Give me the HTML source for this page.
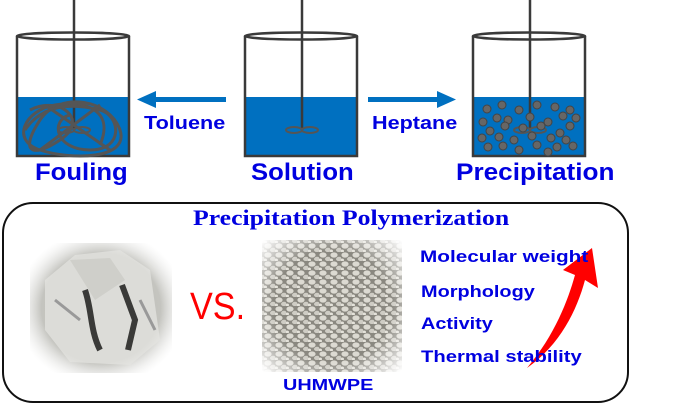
<!DOCTYPE html>
<html><head><style>
body{margin:0;width:687px;height:413px;background:#fff;overflow:hidden;position:relative;font-family:"Liberation Sans",sans-serif}
.t{position:absolute;font-weight:bold;color:#0000e0;white-space:nowrap;transform-origin:0 50%}
</style></head><body>
<svg width="687" height="413" style="position:absolute;left:0;top:0">
<defs>
<radialGradient id="g1" cx="50%" cy="50%" r="60%"><stop offset="0" stop-color="#b8b8b3"/><stop offset="0.7" stop-color="#c4c4bf"/><stop offset="1" stop-color="#fff"/></radialGradient>
<radialGradient id="fade" cx="50%" cy="50%" r="70%"><stop offset="0.6" stop-color="#fff" stop-opacity="0"/><stop offset="1" stop-color="#fff" stop-opacity="1"/></radialGradient>
<pattern id="pb" width="11" height="9" patternUnits="userSpaceOnUse"><rect width="11" height="9" fill="#8a8880"/><ellipse cx="4" cy="3" rx="3.6" ry="2.6" fill="#dcdad2"/><ellipse cx="9" cy="7" rx="3" ry="2.2" fill="#cfcdc5"/><ellipse cx="1" cy="8" rx="2" ry="1.5" fill="#e4e2da"/></pattern>
</defs>
<g>
<rect x="17" y="97" width="112" height="59" fill="#0070c0"/>
<rect x="245" y="97" width="112" height="59" fill="#0070c0"/>
<rect x="473" y="97" width="112" height="59" fill="#0070c0"/>
</g>
<g stroke="#3a3a3a" stroke-width="2.5" fill="none">
<path d="M17 36 V156 H129 V36"/><ellipse cx="73" cy="36" rx="56" ry="3.5"/>
<path d="M245 36 V156 H357 V36"/><ellipse cx="301" cy="36" rx="56" ry="3.5"/>
<path d="M473 36 V156 H585 V36"/><ellipse cx="529" cy="36" rx="56" ry="3.5"/>
<line x1="74" y1="0" x2="74" y2="130"/><line x1="302" y1="0" x2="302" y2="130"/><line x1="530" y1="0" x2="530" y2="130"/>
</g>
<g stroke="#555" stroke-width="2" fill="none">
<ellipse cx="294" cy="130" rx="8" ry="3"/><ellipse cx="310" cy="130" rx="8" ry="3"/>
<ellipse cx="66" cy="130" rx="8" ry="3"/><ellipse cx="82" cy="130" rx="8" ry="3"/>
<ellipse cx="522" cy="130" rx="8" ry="3"/><ellipse cx="538" cy="130" rx="8" ry="3"/>
</g>
<g stroke="#555" stroke-width="3" fill="none">
<path d="M30 110 C60 95 90 120 60 140 S20 150 40 120 S110 100 120 130 S70 160 40 150 S25 110 55 105 S115 110 100 145"/>
<path d="M25 130 C45 100 80 105 100 110 S125 150 90 150 S50 120 70 115"/>
<path d="M45 105 L110 150 M100 105 L40 150"/>
</g>
<g fill="#666" stroke="#444" stroke-width="1">
<circle cx="487" cy="109" r="4"/><circle cx="502" cy="105" r="4"/><circle cx="519" cy="110" r="4"/><circle cx="537" cy="105" r="4"/><circle cx="555" cy="107" r="4"/><circle cx="570" cy="110" r="4"/>
<circle cx="483" cy="122" r="4"/><circle cx="497" cy="118" r="4"/><circle cx="508" cy="120" r="4"/><circle cx="530" cy="117" r="4"/><circle cx="548" cy="122" r="4"/><circle cx="563" cy="116" r="4"/><circle cx="576" cy="118" r="4"/>
<circle cx="490" cy="131" r="4"/><circle cx="505" cy="126" r="4"/><circle cx="523" cy="128" r="4"/><circle cx="541" cy="126" r="4"/><circle cx="560" cy="133" r="4"/><circle cx="570" cy="126" r="4"/>
<circle cx="482" cy="138" r="4"/><circle cx="499" cy="137" r="4"/><circle cx="514" cy="140" r="4"/><circle cx="532" cy="136" r="4"/><circle cx="551" cy="138" r="4"/><circle cx="566" cy="140" r="4"/>
<circle cx="488" cy="147" r="4"/><circle cx="503" cy="146" r="4"/><circle cx="519" cy="150" r="4"/><circle cx="537" cy="145" r="4"/><circle cx="557" cy="147" r="4"/><circle cx="573" cy="146" r="4"/><circle cx="548" cy="152" r="4"/>
</g>
<g fill="#0070c0">
<rect x="153" y="97" width="73" height="5"/><polygon points="137,99.5 156,91 156,108"/>
<rect x="368" y="97" width="72" height="5"/><polygon points="456,99.5 437,91 437,108"/>
</g>
<rect x="3" y="203" width="625" height="199" rx="30" fill="none" stroke="#111" stroke-width="2"/>
<rect x="30" y="243" width="142" height="130" fill="url(#g1)"/>
<path d="M45 280 L75 255 L120 250 L150 270 L160 340 L130 365 L70 362 L45 330Z" fill="#dcdcd8"/>
<path d="M70 260 L110 258 L125 280 L95 300Z" fill="#cfcfca"/>
<path d="M85 290 C92 310 90 330 100 350 M122 285 L135 320 L128 350" stroke="#3a3a38" stroke-width="6" fill="none"/>
<path d="M55 300 L80 320 M140 300 L155 330" stroke="#999" stroke-width="3"/>
<rect x="30" y="243" width="142" height="130" fill="url(#fade)"/>
<rect x="262" y="240" width="140" height="132" fill="url(#pb)"/>
<rect x="262" y="240" width="140" height="132" fill="url(#fade)"/>
<path d="M527 368 C555 335 568 300 575 275 L563 270 L592 248 L598 288 L585 280 C577 310 560 345 527 368Z" fill="#f00"/>
</svg>
<div class="t" style="left:35px;top:159px;font-size:24px;transform:scaleX(1.07)">Fouling</div>
<div class="t" style="left:251px;top:159px;font-size:24px;transform:scaleX(1.07)">Solution</div>
<div class="t" style="left:456px;top:159px;font-size:24px;transform:scaleX(1.09)">Precipitation</div>
<div class="t" style="left:144px;top:113px;font-size:18px;transform:scaleX(1.2)">Toluene</div>
<div class="t" style="left:372px;top:113px;font-size:18px;transform:scaleX(1.2)">Heptane</div>
<div class="t" style="left:193px;top:205px;font-family:'Liberation Serif',serif;font-size:22px;transform:scaleX(1.17)">Precipitation Polymerization</div>
<div style="position:absolute;left:190px;top:286px;color:#f00;font-size:38px;transform:scaleX(0.9);transform-origin:0 0">VS.</div>
<div class="t" style="left:283px;top:377px;font-size:16px;transform:scaleX(1.24)">UHMWPE</div>
<div class="t" style="left:420px;top:247px;font-size:17px;transform:scaleX(1.22)">Molecular weight</div>
<div class="t" style="left:421px;top:282px;font-size:17px;transform:scaleX(1.17)">Morphology</div>
<div class="t" style="left:421px;top:314px;font-size:17px;transform:scaleX(1.17)">Activity</div>
<div class="t" style="left:421px;top:347px;font-size:17px;transform:scaleX(1.19)">Thermal stability</div>
</body></html>
